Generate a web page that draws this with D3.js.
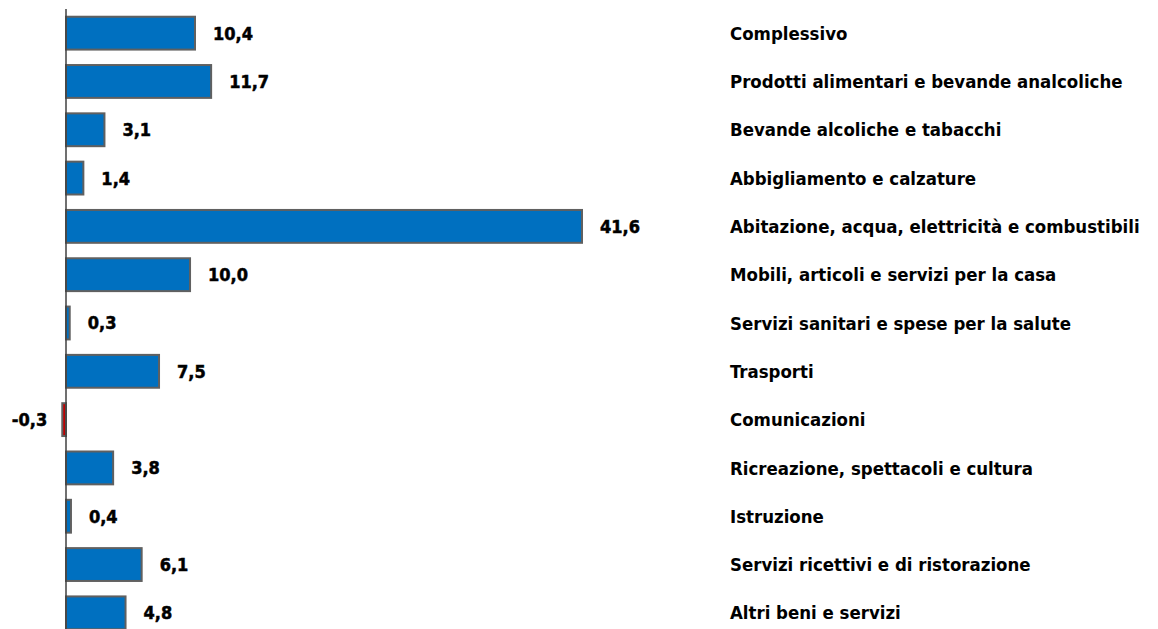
<!DOCTYPE html>
<html>
<head>
<meta charset="utf-8">
<script src="https://cdn.jsdelivr.net/npm/d3@7"></script>
<style>
  body { margin: 0; background: #fff; }
  svg { display: block; }
  .val { font-family: "DejaVu Sans Condensed", "DejaVu Sans", sans-serif; font-stretch: condensed; font-weight: bold; font-size: 18px; fill: #000; stroke: #000; stroke-width: 0.5px; }
  .cat { font-family: "DejaVu Sans Condensed", "DejaVu Sans", sans-serif; font-stretch: condensed; font-weight: bold; font-size: 20px; fill: #000; }
</style>
</head>
<body>
<div id="chart"></div>
<script>
const categories = [
  "Complessivo",
  "Prodotti alimentari e bevande analcoliche",
  "Bevande alcoliche e tabacchi",
  "Abbigliamento e calzature",
  "Abitazione, acqua, elettricità e combustibili",
  "Mobili, articoli e servizi per la casa",
  "Servizi sanitari e spese per la salute",
  "Trasporti",
  "Comunicazioni",
  "Ricreazione, spettacoli e cultura",
  "Istruzione",
  "Servizi ricettivi e di ristorazione",
  "Altri beni e servizi"
];
const values = [10.4, 11.7, 3.1, 1.4, 41.6, 10.0, 0.3, 7.5, -0.3, 3.8, 0.4, 6.1, 4.8];

const width = 1158, height = 629;
const fmt = v => v.toFixed(1).replace(".", ",");

const svg = d3.select("#chart").append("svg")
  .attr("width", width)
  .attr("height", height);

const x = d3.scaleLinear().domain([0, 41.6]).range([66, 582]);
const y = d3.scaleBand().domain(categories).range([9, 637]).paddingInner(0.32).paddingOuter(0.16);

const data = categories.map((c, i) => ({ cat: c, v: values[i] }));

svg.selectAll(".bar")
  .data(data)
  .enter()
  .append("rect")
  .attr("class", "bar")
  .attr("x", d => Math.min(x(0), x(d.v)))
  .attr("y", d => y(d.cat))
  .attr("width", d => Math.abs(x(d.v) - x(0)))
  .attr("height", y.bandwidth())
  .attr("fill", d => d.v < 0 ? "#c00000" : "#0070c0")
  .attr("stroke", "#606060")
  .attr("stroke-width", 2);

// vertical axis line
svg.append("line")
  .attr("x1", x(0)).attr("x2", x(0))
  .attr("y1", 9).attr("y2", height)
  .attr("stroke", "#404040")
  .attr("stroke-width", 1.5);

svg.selectAll(".val")
  .data(data)
  .enter()
  .append("text")
  .attr("class", "val")
  .attr("x", d => d.v < 0 ? x(d.v) - 15 : x(d.v) + 18)
  .attr("y", d => y(d.cat) + y.bandwidth() / 2)
  .attr("dy", "0.36em")
  .attr("text-anchor", d => d.v < 0 ? "end" : "start")
  .text(d => fmt(d.v));

const cats = svg.selectAll(".cat")
  .data(data)
  .enter()
  .append("text")
  .attr("class", "cat")
  .attr("x", 730)
  .attr("y", d => y(d.cat) + y.bandwidth() / 2)
  .attr("dy", "0.36em")
  .text(d => d.cat);

// fit label size so the longest label ends near the right edge, as in the original
const longest = d3.max(cats.nodes(), n => n.getComputedTextLength());
const fs = 20 * 410 / longest;
cats.style("font-size", fs + "px");
</script>
</body>
</html>
